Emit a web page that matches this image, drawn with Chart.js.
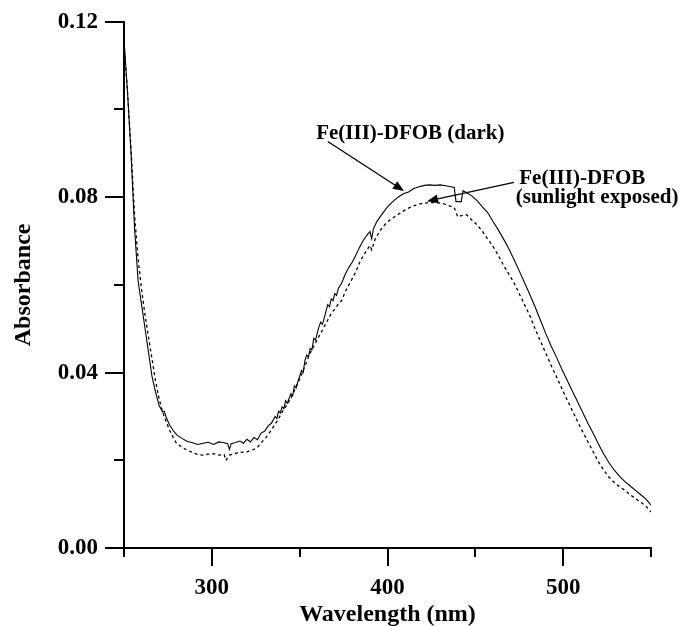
<!DOCTYPE html>
<html><head><meta charset="utf-8">
<script src="https://cdn.jsdelivr.net/npm/chart.js@4/dist/chart.umd.min.js"></script>
<style>html,body{margin:0;padding:0;background:#fff}canvas{display:block}</style>
</head><body>
<canvas id="c" width="680" height="626"></canvas>
<script>
// ---- data ----
const darkWavelength = [
  250,252,254,256,258,260,262,264,266,268,
  270,272,273,274,276,278,280,283,286,289,
  292,295,298,301,304,307,309,310,311,313,
  316,318,320,322,324,326,328,330,332,334,
  336,337,338,339,340,341,342,343,345,346,
  347,348,349,350,351,352,353,354,355,356,
  357,358,359,360,361,362,363,364,365,366,
  367,368,369,370,371,372,374,376,378,380,
  382,384,386,388,390,391,392,394,397,400,
  403,406,409,412,415,418,421,424,427,430,
  433,436,438,439,442,443,445,448,451,454,
  457,460,463,466,469,472,475,478,481,484,
  487,490,493,496,499,502,505,508,511,514,
  517,520,523,526,529,532,535,538,541,544,
  547,550];
const darkAbsorbance = [
  0.116,0.104,0.090,0.073,0.061,0.0555,0.050,0.0445,0.039,0.0355,
  0.0325,0.0310,0.0312,0.0298,0.0280,0.0268,0.0258,0.0250,0.0243,0.0240,
  0.0236,0.0239,0.0241,0.0236,0.0242,0.0240,0.0238,0.0225,0.0238,0.0240,
  0.0244,0.0239,0.0248,0.0242,0.0252,0.0247,0.0262,0.0266,0.0278,0.0285,
  0.0300,0.0295,0.0312,0.0308,0.0322,0.0318,0.0336,0.0330,0.0352,0.0347,
  0.0370,0.0365,0.0380,0.0392,0.0405,0.0400,0.0428,0.0440,0.0436,0.0455,
  0.0452,0.0478,0.0474,0.0490,0.0505,0.0515,0.0510,0.0525,0.0540,0.0555,
  0.0550,0.0568,0.0564,0.0580,0.0576,0.0592,0.0605,0.0625,0.0640,0.0652,
  0.0668,0.0685,0.0700,0.0712,0.0722,0.0705,0.0728,0.0745,0.0762,0.0778,
  0.0790,0.0800,0.0808,0.0812,0.0820,0.0824,0.0827,0.0828,0.0827,0.0828,
  0.0826,0.0824,0.0822,0.0790,0.0790,0.0815,0.0810,0.0803,0.0792,0.0778,
  0.0765,0.0745,0.0726,0.0705,0.0683,0.0658,0.0632,0.0605,0.0578,0.0550,
  0.0520,0.0490,0.0462,0.0437,0.0410,0.0385,0.0360,0.0335,0.0310,0.0285,
  0.0262,0.0238,0.0215,0.0195,0.0178,0.0164,0.0152,0.0142,0.0132,0.0122,
  0.0112,0.0098];

const sunWavelength = [
  250,252,254,256,258,260,262,264,266,268,
  270,272,274,276,278,280,283,286,289,292,
  295,298,301,304,307,308,310,313,316,319,
  322,324,326,328,330,332,334,336,338,340,
  342,344,346,348,350,352,354,356,358,360,
  362,364,366,368,370,372,374,376,378,380,
  382,384,386,388,390,391,393,396,399,402,
  405,408,411,414,417,420,423,426,429,432,
  435,438,440,442,445,448,451,454,457,460,
  463,466,469,472,475,478,481,484,487,490,
  493,496,499,502,505,508,511,514,517,520,
  523,526,529,532,535,538,541,544,547,550];
const sunAbsorbance = [
  0.115,0.104,0.091,0.076,0.066,0.0590,0.0530,0.0480,0.0430,0.0380,
  0.0340,0.0310,0.0288,0.0268,0.0252,0.0238,0.0230,0.0223,0.0218,0.0213,
  0.0212,0.0214,0.0215,0.0212,0.0213,0.0200,0.0212,0.0215,0.0219,0.0218,
  0.0222,0.0225,0.0230,0.0240,0.0248,0.0258,0.0270,0.0282,0.0295,0.0310,
  0.0322,0.0335,0.0350,0.0368,0.0385,0.0405,0.0425,0.0445,0.0460,0.0475,
  0.0490,0.0505,0.0520,0.0535,0.0545,0.0556,0.0565,0.0585,0.0600,0.0615,
  0.0630,0.0650,0.0665,0.0678,0.0690,0.0680,0.0705,0.0725,0.0740,0.0750,
  0.0758,0.0766,0.0773,0.0779,0.0783,0.0786,0.0787,0.0788,0.0787,0.0785,
  0.0781,0.0776,0.0755,0.0758,0.0760,0.0748,0.0737,0.0722,0.0705,0.0688,
  0.0668,0.0645,0.0625,0.0605,0.0580,0.0555,0.0530,0.0500,0.0472,0.0445,
  0.0418,0.0392,0.0366,0.0340,0.0315,0.0290,0.0266,0.0243,0.0220,0.0197,
  0.0178,0.0162,0.0150,0.0140,0.0132,0.0122,0.0113,0.0105,0.0096,0.0082];

const xTickValues = [250,300,350,400,450,500,550];
const xMajorTicks = [300,400,500];
const yTickValues = [0,0.02,0.04,0.06,0.08,0.10,0.12];
const yMajorTicks = [0,0.04,0.08,0.12];

const seriesNames = ['Fe(III)-DFOB (dark)', 'Fe(III)-DFOB (sunlight exposed)'];

// annotation text and arrows, placed in data units
const annotationLabels = [
  {text:'Fe(III)-DFOB (dark)', x:413, y:0.0945, align:'center'},
  {text:'Fe(III)-DFOB', x:475, y:0.0843, align:'left'},
  {text:'(sunlight exposed)', x:473, y:0.0798, align:'left'}
];
const annotationArrows = [
  {from:[366, 0.0927], to:[409.4, 0.0814]},
  {from:[472, 0.0834], to:[422.5, 0.0791]}
];

// ---- chart ----
const FONT = "'Liberation Serif','Times New Roman',serif";
const toPoints = (xs, ys) => xs.map((x, i) => ({x, y: ys[i]}));
const isMajorY = v => yMajorTicks.some(m => Math.abs(m - v) < 1e-9);

const tickPlugin = {
  id: 'customTicks',
  afterDraw(chart) {
    const ctx = chart.ctx, xs = chart.scales.x, ys = chart.scales.y;
    ctx.save();
    ctx.strokeStyle = '#000';
    ctx.lineWidth = 2;
    xTickValues.forEach(v => {
      const px = Math.round(xs.getPixelForValue(v));
      const len = xMajorTicks.includes(v) ? 18 : 9;
      ctx.beginPath(); ctx.moveTo(px, ys.bottom); ctx.lineTo(px, ys.bottom + len); ctx.stroke();
    });
    yTickValues.forEach(v => {
      const py = Math.round(ys.getPixelForValue(v));
      const len = isMajorY(v) ? 19 : 10;
      ctx.beginPath(); ctx.moveTo(xs.left, py); ctx.lineTo(xs.left - len, py); ctx.stroke();
    });
    ctx.restore();
  }
};

const annotationPlugin = {
  id: 'annotations',
  afterDatasetsDraw(chart) {
    const ctx = chart.ctx, xs = chart.scales.x, ys = chart.scales.y;
    ctx.save();
    ctx.fillStyle = '#000';
    ctx.strokeStyle = '#000';
    ctx.font = "bold 21px " + FONT;
    ctx.textBaseline = 'middle';
    annotationLabels.forEach(l => {
      ctx.textAlign = l.align;
      ctx.fillText(l.text, xs.getPixelForValue(l.x), ys.getPixelForValue(l.y));
    });
    ctx.lineWidth = 1.3;
    annotationArrows.forEach(a => {
      const x1 = xs.getPixelForValue(a.from[0]), y1 = ys.getPixelForValue(a.from[1]);
      const x2 = xs.getPixelForValue(a.to[0]), y2 = ys.getPixelForValue(a.to[1]);
      const ang = Math.atan2(y2 - y1, x2 - x1);
      const hl = 11, hw = 4.5;
      const bx = x2 - hl * Math.cos(ang), by = y2 - hl * Math.sin(ang);
      ctx.beginPath(); ctx.moveTo(x1, y1); ctx.lineTo(bx, by); ctx.stroke();
      ctx.beginPath();
      ctx.moveTo(x2, y2);
      ctx.lineTo(bx + hw * Math.sin(ang), by - hw * Math.cos(ang));
      ctx.lineTo(bx - hw * Math.sin(ang), by + hw * Math.cos(ang));
      ctx.closePath(); ctx.fill();
    });
    ctx.restore();
  }
};

new Chart(document.getElementById('c'), {
  type: 'line',
  data: {
    datasets: [
      {label: seriesNames[0], data: toPoints(darkWavelength, darkAbsorbance),
       borderColor: '#000', borderWidth: 1.1, pointRadius: 0, tension: 0, fill: false},
      {label: seriesNames[1], data: toPoints(sunWavelength, sunAbsorbance),
       borderColor: '#000', borderWidth: 1.3, borderDash: [3, 3], pointRadius: 0, tension: 0, fill: false}
    ]
  },
  options: {
    responsive: false,
    devicePixelRatio: 1,
    animation: false,
    layout: {padding: {top: 20, right: 29, left: 0, bottom: 0}},
    plugins: {legend: {display: false}, tooltip: {enabled: false}},
    scales: {
      x: {
        type: 'linear', position: 'bottom', min: 250, max: 550,
        afterFit: s => { s.height = 78; },
        grid: {display: false, drawTicks: true, tickLength: 18},
        border: {display: true, color: '#000', width: 2},
        ticks: {stepSize: 50, autoSkip: false, maxRotation: 0, padding: 8, color: '#000',
                font: {family: FONT, size: 23, weight: 'bold'},
                callback: v => xMajorTicks.includes(v) ? String(v) : ''},
        title: {display: true, text: 'Wavelength (nm)', color: '#000',
                font: {family: FONT, size: 24, weight: 'bold', lineHeight: 0.9},
                padding: {top: 0, bottom: 0}}
      },
      y: {
        type: 'linear', position: 'left', min: 0, max: 0.12,
        afterFit: s => { s.width = 124; },
        grid: {display: false, drawTicks: true, tickLength: 18},
        border: {display: true, color: '#000', width: 2},
        ticks: {stepSize: 0.02, autoSkip: false, padding: 8, color: '#000',
                font: {family: FONT, size: 23, weight: 'bold'},
                callback: v => isMajorY(v) ? v.toFixed(2) : ''},
        title: {display: true, text: 'Absorbance', color: '#000',
                font: {family: FONT, size: 24, weight: 'bold'},
                padding: {top: 9, bottom: 0}}
      }
    }
  },
  plugins: [tickPlugin, annotationPlugin]
});
</script></body></html>
